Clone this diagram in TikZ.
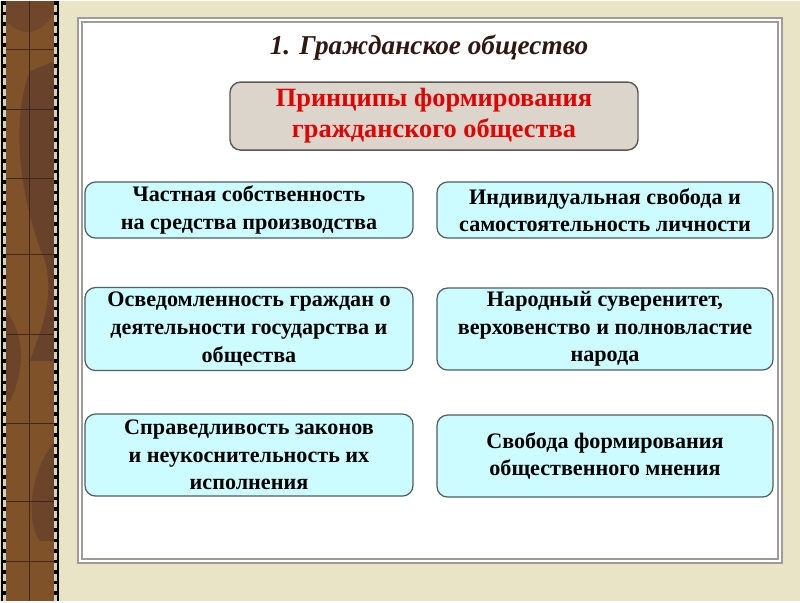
\documentclass[tikz,border=0pt]{standalone}
\usepackage{fontspec}
\setmainfont{Liberation Serif}

\definecolor{bgbeige}{RGB}{234,228,198}
\definecolor{stripbrown}{RGB}{128,82,42}
\definecolor{stripdark}{RGB}{88,56,42}
\definecolor{panelgrey}{RGB}{160,155,150}
\definecolor{boxfill}{RGB}{204,252,255}
\definecolor{boxedge}{RGB}{80,95,95}
\definecolor{headfill}{RGB}{219,213,204}
\definecolor{headedge}{RGB}{90,90,85}
\definecolor{headred}{RGB}{225,0,0}
\definecolor{titlebrown}{RGB}{45,25,15}

\begin{document}
\begin{tikzpicture}[x=0.02cm, y=-0.02cm,
  title/.style={font=\fontsize{15.5}{19}\selectfont\bfseries\itshape, text=titlebrown, inner sep=0pt},
  head/.style={draw=headedge, fill=headfill, line width=0.8pt, rounded corners=6pt,
    align=center, inner sep=0pt, text=headred,
    font=\fontsize{15}{17.6}\selectfont\bfseries},
  principle/.style={draw=boxedge, fill=boxfill, line width=0.7pt, rounded corners=6pt,
    align=center, inner sep=0pt, text=black,
    font=\fontsize{12.6}{15.7}\selectfont\bfseries}]
  % parameters
  \def\pxl{0.02cm}   % one pixel of the slide

  % background
  \fill[bgbeige] (0,0) rectangle (800,600);

  % decorative strip on the left
  \fill[stripbrown] (3,0) rectangle (57,600);
  \fill[stripdark, opacity=0.6] (30,70) .. controls (10,120) and (20,200) .. (45,260)
    .. controls (55,300) and (40,330) .. (30,360) -- (55,360) -- (55,60) -- cycle;
  \fill[stripdark, opacity=0.5] (6,310) .. controls (30,340) and (20,380) .. (10,400)
    -- (6,400) -- cycle;
  \fill[stripdark, opacity=0.5] (55,440) .. controls (30,470) and (25,520) .. (40,540)
    -- (55,540) -- cycle;
  \fill[stripdark, opacity=0.4] (6,20) .. controls (25,40) and (45,30) .. (55,10) -- (55,0) -- (6,0) -- cycle;
  \draw[stripdark!70!black, line width=0.5pt] (29,0) -- (29,600);
  \foreach \yy in {48,108,177,253,333,422,500,560}
    \draw[stripdark!70!black, line width=0.5pt] (6,\yy) -- (54,\yy);
  \fill[bgbeige!80!gray] (3,0) rectangle (6,600);
  \fill[bgbeige!80!gray] (54,0) rectangle (57,600);
  \draw[black, line width=1.2pt, dash pattern=on 2pt off 4pt] (4.5,0) -- (4.5,600);
  \draw[black, line width=1.2pt, dash pattern=on 2pt off 4pt] (55.5,0) -- (55.5,600);
  \draw[black, line width=1.2pt] (2,0) -- (2,600);
  \draw[black, line width=1.2pt] (58,0) -- (58,600);

  % white panel
  \fill[white] (78,17) rectangle (782,562);
  \draw[panelgrey, line width=1pt] (78,17) rectangle (782,562);
  \draw[panelgrey, line width=0.8pt] (82,21) rectangle (778,558);

  % title and header
  \node[title] (title) at (429,47) {1. Гражданское общество};
  \node[head, minimum width=408*\pxl, minimum height=68*\pxl] (head) at (434,115)
    {Принципы формирования\\гражданского общества};

  % principles, left column
  \node[principle, minimum width=328*\pxl, minimum height=56*\pxl] (property) at (249,209)
    {Частная собственность\\на средства производства};
  \node[principle, minimum width=328*\pxl, minimum height=83*\pxl] (awareness) at (249,328)
    {Осведомленность граждан о\\деятельности государства и\\общества};
  \node[principle, minimum width=328*\pxl, minimum height=82*\pxl] (justice) at (249,454)
    {Справедливость законов\\и неукоснительность их\\исполнения};

  % principles, right column
  \node[principle, minimum width=336*\pxl, minimum height=56*\pxl] (freedom) at (605,209)
    {Индивидуальная свобода и\\самостоятельность личности};
  \node[principle, minimum width=336*\pxl, minimum height=82*\pxl] (sovereignty) at (605,328)
    {Народный суверенитет,\\верховенство и полновластие\\народа};
  \node[principle, minimum width=336*\pxl, minimum height=82*\pxl] (opinion) at (605,455)
    {Свобода формирования\\общественного мнения};
\end{tikzpicture}
\end{document}
